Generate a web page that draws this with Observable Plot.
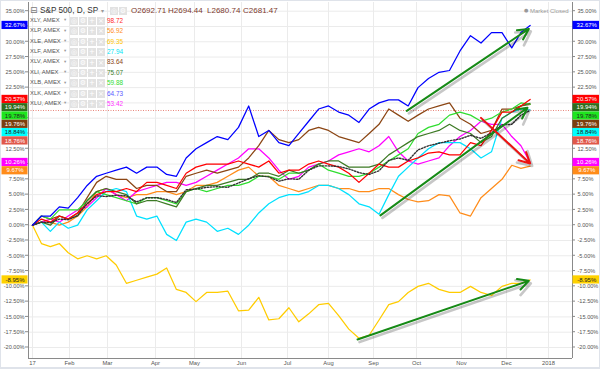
<!DOCTYPE html>
<html><head><meta charset="utf-8">
<script src="https://cdn.jsdelivr.net/npm/d3@7"></script>
<script src="https://cdn.jsdelivr.net/npm/@observablehq/plot@0.6"></script>
<style>
body{margin:0;background:#fff;font-family:"Liberation Sans",Arial,sans-serif;}
#wrap{position:relative;width:600px;height:369px;overflow:hidden;background:#fff;}
#wrap svg{position:absolute;left:0;top:0;}
.abs{position:absolute;white-space:nowrap;line-height:1;}
.ico{position:absolute;width:8px;height:8px;background:#e2e2e2;color:#fff;font-size:7px;line-height:8px;text-align:center;font-family:"DejaVu Sans",sans-serif;}
#border{position:absolute;left:0;top:0;width:600px;height:369px;box-sizing:border-box;border:1px solid #dfe3ea;border-bottom:2px solid #dfe3ea;pointer-events:none;}
</style></head>
<body><div id="wrap"></div>
<script>
// ---- data (percent change since 2017-01-03), weekly samples ----
const dates = ["2017-01-03","2017-01-10","2017-01-17","2017-01-24","2017-01-31","2017-02-07","2017-02-14","2017-02-21","2017-02-28",
"2017-03-07","2017-03-14","2017-03-21","2017-03-28","2017-04-04","2017-04-11","2017-04-18","2017-04-25","2017-05-02","2017-05-09",
"2017-05-16","2017-05-23","2017-05-30","2017-06-06","2017-06-13","2017-06-20","2017-06-27","2017-07-04","2017-07-11","2017-07-18",
"2017-07-25","2017-08-01","2017-08-08","2017-08-15","2017-08-22","2017-08-29","2017-09-05","2017-09-12","2017-09-19","2017-09-26",
"2017-10-03","2017-10-10","2017-10-17","2017-10-24","2017-10-31","2017-11-07","2017-11-14","2017-11-21","2017-11-28","2017-12-05",
"2017-12-12","2017-12-19"];

const xlk = [0,1.5,1.5,3.0,2.8,4.5,6.5,8.0,8.5,9.0,9.5,8.5,9.5,9.5,8.3,8.0,11.0,12.5,13.5,14.5,14.0,16.0,19.5,14.5,15.5,13.5,13.0,15.0,17.0,19.0,19.5,18.5,18.0,16.8,19.0,20.0,20.5,20.5,19.5,22.5,24.0,25.0,25.3,28.5,31.0,29.8,31.5,31.5,29.0,31.5,32.67];
const spx = [0,0.5,0.4,1.0,0.9,1.6,3.5,4.8,4.7,4.9,4.8,3.8,4.5,4.5,4.2,3.7,5.8,5.9,6.2,6.3,6.2,6.9,7.6,8.1,7.9,7.2,7.6,7.5,9.0,9.7,9.7,9.6,9.2,8.6,8.3,8.9,10.6,11.0,10.6,12.3,13.0,13.4,13.8,14.1,14.7,14.2,15.1,16.4,16.5,18.0,18.76];
const xly = [0,1.0,0.5,1.5,1.0,2.0,3.5,5.0,5.5,5.5,6.0,5.5,7.0,7.0,6.5,6.0,8.5,9.5,10.0,10.0,10.0,10.5,10.0,9.5,10.5,8.5,9.0,9.0,10.0,10.5,10.0,9.5,8.5,7.0,8.5,10.0,9.5,9.5,10.5,11.0,11.8,12.0,11.5,11.5,13.5,13.0,15.5,18.5,18.5,19.5,20.57];
const xli = [0,0.5,0,1.5,1.0,1.5,4.0,5.5,6.0,5.5,5.0,3.5,4.0,4.0,3.5,3.0,5.5,6.0,6.5,6.5,7.0,7.5,7.5,8.5,8.5,8.0,9.0,8.5,9.0,10.0,10.5,10.5,9.5,9.5,9.5,10.0,11.5,12.5,13.5,14.5,15.0,15.5,16.5,15.5,15.0,13.5,14.5,17.5,18.5,19.5,19.94];
const xlb = [0,1.5,1.0,2.5,2.5,2.5,4.0,5.5,5.0,4.5,4.0,3.5,4.5,4.5,4.0,3.5,5.5,6.0,5.5,6.0,6.5,6.5,7.0,8.0,8.0,7.5,8.5,8.5,9.0,10.0,9.0,8.5,8.0,8.0,8.5,9.5,10.5,11.5,12.5,15.0,16.0,16.5,18.0,18.5,18.0,17.0,17.5,18.5,19.0,20.0,19.78];
const xlv = [0,1.5,1.0,1.5,1.0,2.0,4.5,7.0,8.0,7.5,7.5,6.0,6.5,6.5,5.5,5.5,8.0,8.5,9.0,8.5,9.0,9.5,11.0,13.0,15.5,14.0,13.5,14.0,15.5,16.0,15.5,14.5,14.0,13.5,15.0,16.5,19.0,18.0,17.0,18.0,19.0,19.5,20.0,17.5,16.5,15.0,15.5,19.0,19.0,19.5,19.76];
const xlf = [0,0.5,-1.0,0.5,-0.5,0.0,2.5,4.0,5.5,6.0,5.5,1.5,1.0,1.5,-1.5,-2.5,0.5,1.0,0.5,-1.0,-0.5,-1.5,0.0,2.0,3.5,4.5,5.0,5.0,5.5,6.5,6.5,6.0,5.0,3.5,3.0,1.8,5.0,8.0,9.5,11.0,12.5,13.5,13.5,13.5,12.5,11.0,12.0,17.5,18.5,19.0,18.84];
const xlu = [0,0.5,1.0,0.5,1.5,2.5,3.0,4.5,6.0,5.0,4.0,5.5,6.0,6.5,7.0,7.0,6.5,7.0,8.0,9.0,10.0,11.0,12.5,12.5,11.0,9.0,7.5,8.0,9.5,10.0,10.5,11.5,12.0,12.5,12.0,13.0,14.5,12.0,10.5,10.0,10.5,11.0,13.0,14.5,15.5,17.0,16.5,16.5,14.5,13.0,10.26];
const xlp = [0,0.5,0.5,0.0,0.5,1.5,3.0,5.5,6.0,5.0,4.5,5.0,5.0,5.5,5.5,5.0,5.5,6.5,6.5,7.0,8.0,9.0,9.5,8.0,8.0,6.5,6.0,5.5,6.0,6.5,6.5,6.0,6.0,5.5,5.5,6.0,6.0,5.0,4.2,3.8,4.0,5.0,4.8,2.0,1.5,4.5,6.0,7.5,9.8,9.3,9.67];
const xle = [0,-3.0,-3.5,-3.0,-4.5,-5.5,-5.0,-5.5,-5.0,-6.5,-9.5,-9.0,-8.5,-8.0,-7.0,-10.5,-11.0,-12.5,-11.0,-11.0,-10.8,-14.0,-13.9,-11.8,-15.5,-15.3,-13.5,-15.8,-14.5,-13.0,-12.8,-14.8,-17.0,-18.5,-18.0,-15.5,-13.0,-12.5,-11.0,-10.0,-9.5,-10.5,-11.0,-11.0,-10.0,-11.0,-11.5,-10.0,-9.5,-9.5,-8.95];

// legend
const legendTickers = ["XLY","XLP","XLE","XLF","XLV","XLI","XLB","XLK","XLU"];
const legendPrices = ["98.72","56.92","69.35","27.94","83.64","75.07","59.88","64.73","53.42"];
const legendColors = ["#ff2a2a","#ff8c1a","#ffc400","#00e5f5","#8b4513","#3a7d1f","#33dd33","#5a5aff","#ff33ff"];
const ohlc = ["O2692.71","H2694.44","L2680.74","C2681.47"];

// axes
const yTicks = [-20,-17.5,-15,-12.5,-10,-7.5,-5,-2.5,0,2.5,5,7.5,10,12.5,15,17.5,20,22.5,25,27.5,30,32.5,35];
const xTickDates = ["2017-01-03","2017-02-01","2017-03-01","2017-04-03","2017-05-01","2017-06-01","2017-07-03","2017-08-01","2017-09-01","2017-10-02","2017-11-01","2017-12-01","2018-01-02"];
const xTickLabels = ["17","Feb","Mar","Apr","May","Jun","Jul","Aug","Sep","Oct","Nov","Dec","2018"];

// arrows
const arrowStarts = ["2017-09-25","2017-09-06","2017-11-14","2017-08-21"];
const arrowStartVals = [18.7, 1.6, 17.55, -18.7];
const arrowEnds = ["2017-12-18","2017-12-17","2017-12-19","2017-12-18"];
const arrowEndVals = [32.1, 19.2, 10.1, -9.1];
const arrowColors = ["#168a16","#168a16","#ee1111","#168a16"];

// ---- build ----
const series = [
  {name:"XLE", v:xle, color:"#ffcc00", box:"#ffd200", tc:"#222"},
  {name:"XLP", v:xlp, color:"#ff8c1a", box:"#ff8c1a", tc:"#fff"},
  {name:"XLU", v:xlu, color:"#ff00ff", box:"#ff00ff", tc:"#fff"},
  {name:"XLF", v:xlf, color:"#00e1ff", box:"#00ffff", tc:"#222"},
  {name:"XLV", v:xlv, color:"#8b4513", box:"#7b3f10", tc:"#fff"},
  {name:"XLB", v:xlb, color:"#2fdd2f", box:"#1ee61e", tc:"#222"},
  {name:"XLI", v:xli, color:"#3d7a25", box:"#2f6d1d", tc:"#fff"},
  {name:"XLY", v:xly, color:"#ff0000", box:"#ff0000", tc:"#fff"},
  {name:"SPX", v:spx, color:"#333333", box:"#e0584a", tc:"#fff", dash:"1.4,1.6"},
  {name:"XLK", v:xlk, color:"#0000ff", box:"#0000ff", tc:"#fff"}
];
const parse = s => new Date(s + "T00:00:00Z");
const rows = s => dates.map((d, i) => ({date: parse(d), value: s.v[i]}));
const arrows = arrowStarts.map((d, i) => ({x1: parse(d), y1: arrowStartVals[i], x2: parse(arrowEnds[i]), y2: arrowEndVals[i], c: arrowColors[i]}));

const W = 600, H = 369, mT = 2, mB = 11;
const xDom = ["2016-12-31", ...xTickDates, "2018-01-16"].map(parse);
const xRange = [28,32,69,107,155,194,241,287,328,373,416,461,506,548,572];
const yDom = [-21.8, 36.42];
const fmtY = d => d.toFixed(2) + "%";
const spLast = spx[spx.length - 1];

// last-value price labels, dodged vertically in the y scale's pixel space
const yScale = Plot.scale({y: {domain: yDom, range: [H - mB, mT]}});
const labs = series.map(s => ({v: s.v[s.v.length - 1], box: s.box, tc: s.tc}))
  .map(l => ({...l, py: yScale.apply(l.v)})).sort((a, b) => a.py - b.py);
for (let i = 1; i < labs.length; i++) labs[i].py = Math.max(labs[i].py, labs[i - 1].py + 8.3);
// axis labels that a price label hides
const shownTicks = yTicks.filter(t => labs.every(l => Math.abs(yScale.apply(t) - l.py) > 6.2));

const marks = [
  Plot.ruleY(yTicks, {stroke: "#ebebeb", strokeWidth: 1}),
  Plot.ruleX(xTickDates.map(parse), {stroke: "#ebebeb", strokeWidth: 1}),
  Plot.ruleY([spLast], {stroke: "#e8867c", strokeDasharray: "1,1.5", strokeWidth: 1}),
  ...series.map(s => Plot.line(rows(s), {x: "date", y: "value", stroke: s.color, strokeWidth: s.dash ? 1.4 : 1.25, strokeDasharray: s.dash, curve: "linear"})),
  Plot.arrow(arrows, {x1: "x1", y1: "y1", x2: "x2", y2: "y2", stroke: "#000", strokeOpacity: 0.22, strokeWidth: 2.6, dx: 2, dy: 2.5, headLength: 9}),
  Plot.arrow(arrows, {x1: "x1", y1: "y1", x2: "x2", y2: "y2", stroke: "c", strokeWidth: 2, headLength: 9, headAngle: 55}),
  Plot.ruleX([xDom[0], xDom[xDom.length - 1]], {stroke: "#8a8a8a", strokeWidth: 1}),
  Plot.ruleY([yDom[0]], {stroke: "#8a8a8a", strokeWidth: 1}),
  Plot.text(shownTicks, {y: d => d, text: fmtY, frameAnchor: "left", textAnchor: "end", dx: -4, fontSize: 5.6, fill: "#555"}),
  Plot.text(shownTicks, {y: d => d, text: fmtY, frameAnchor: "right", textAnchor: "start", dx: 5, fontSize: 5.6, fill: "#555"}),
  Plot.text(xTickDates.map((d, i) => ({d: parse(d), t: xTickLabels[i]})), {x: "d", text: "t", frameAnchor: "bottom", dy: 6, fontSize: 5.8, fill: "#555"})
];

const chart = Plot.plot({
  width: W, height: H,
  marginLeft: 28, marginRight: 28, marginTop: mT, marginBottom: mB,
  style: {fontFamily: '"Liberation Sans", Arial, sans-serif', background: "#fff"},
  x: {type: "utc", domain: xDom, range: xRange, axis: null},
  y: {domain: yDom, axis: null},
  color: {type: "identity"},
  marks
});
const wrap = document.getElementById("wrap");
wrap.appendChild(chart);

const ys = chart.scale("y");
const svg = d3.select(chart);
const g = svg.append("g");
yTicks.forEach(v => {
  const py = ys.apply(v);
  g.append("line").attr("x1", 25).attr("x2", 28).attr("y1", py).attr("y2", py).attr("stroke", "#8a8a8a");
  g.append("line").attr("x1", 572).attr("x2", 575).attr("y1", py).attr("y2", py).attr("stroke", "#8a8a8a");
});
labs.forEach(l => {
  [[1.5, 26], [572.5, 27.5]].forEach(([x, w]) => {
    g.append("rect").attr("x", x).attr("y", l.py - 4.1).attr("width", w).attr("height", 8.2).attr("fill", l.box);
    g.append("text").attr("x", x + w / 2 + 0.5).attr("y", l.py).attr("dy", "0.35em").attr("text-anchor", "middle")
      .attr("font-size", 6).attr("fill", l.tc).attr("font-family", '"Liberation Sans", Arial, sans-serif').text(fmtY(l.v));
  });
});

// legend overlay
function el(cls, css, txt) { const d = document.createElement("div"); d.className = cls; d.style.cssText = css; if (txt != null) d.textContent = txt; wrap.appendChild(d); return d; }
el("abs", "left:30px;top:6px;font-size:9px;color:#777;font-family:'DejaVu Sans',sans-serif;", "⊟");
el("abs", "left:40px;top:7px;font-size:8.2px;color:#333;", "S&P 500, D, SP");
el("abs", "left:101px;top:8px;font-size:6px;color:#999;font-family:'DejaVu Sans',sans-serif;", "▾");
el("ico", "left:110px;top:7px;", "◎");
el("ico", "left:119px;top:7px;", "⚙");
[131, 168, 207, 243].forEach((x, i) => el("abs", `left:${x}px;top:7px;font-size:8px;color:#7d3a2e;`, ohlc[i]));
legendTickers.forEach((t, i) => {
  const cy = 21 + i * 10.4;
  el("abs", `left:30px;top:${cy - 3.2}px;font-size:5.9px;color:#555;`, t + ", AMEX");
  el("abs", `left:64px;top:${cy - 2.8}px;font-size:4.5px;color:#999;font-family:'DejaVu Sans',sans-serif;`, "▾");
  ["◎","⚙","+","×"].forEach((gch, k) => el("ico", `left:${70 + k * 9}px;top:${cy - 4}px;`, gch));
  el("abs", `left:107px;top:${cy - 3.3}px;font-size:6.4px;color:${legendColors[i]};`, legendPrices[i]);
});
el("abs", "left:524px;top:7.5px;font-size:5px;color:#999;font-family:'DejaVu Sans',sans-serif;", "●");
el("abs", "left:530px;top:7.5px;font-size:6px;color:#9a9a9a;", "Market Closed");
el("", "", null).id = "border";
</script></body></html>
